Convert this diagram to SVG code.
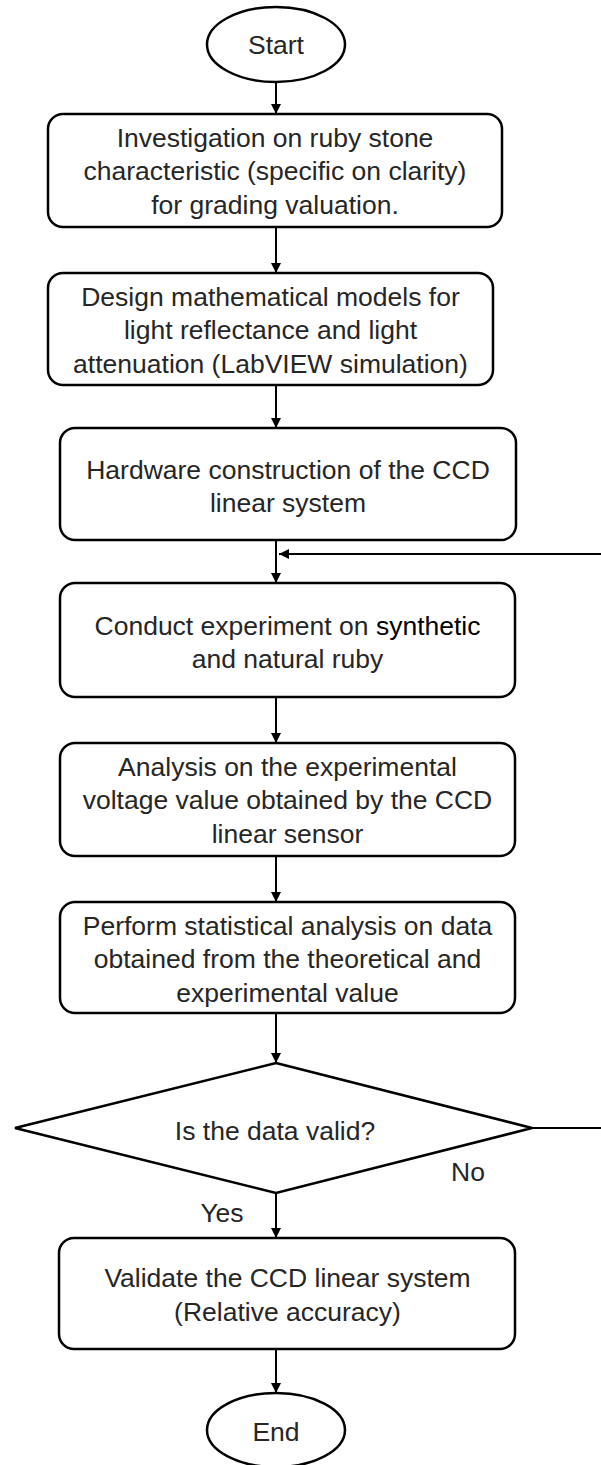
<svg xmlns="http://www.w3.org/2000/svg" width="601" height="1465" viewBox="0 0 601 1465">
<style>
.s{fill:#fff;stroke:#000;stroke-width:2.5}
.t{font-family:"Liberation Sans",Arial,sans-serif;font-size:26.5px;fill:#262626;text-anchor:middle}
.c{stroke:#000;stroke-width:2;fill:none}
</style>
<defs>
<marker id="ah" viewBox="0 0 10 10" refX="10" refY="5" markerWidth="10" markerHeight="10" markerUnits="userSpaceOnUse" orient="auto">
<path d="M0,0 L10,5 L0,10 Z" fill="#000"/>
</marker>
</defs>
<rect width="601" height="1465" fill="#fff"/>
<g id="connectors">
<line class="c" x1="276" y1="82" x2="276" y2="114" marker-end="url(#ah)"/>
<line class="c" x1="276" y1="227" x2="276" y2="273" marker-end="url(#ah)"/>
<line class="c" x1="276" y1="385" x2="276" y2="428" marker-end="url(#ah)"/>
<line class="c" x1="276" y1="540" x2="276" y2="583" marker-end="url(#ah)"/>
<line class="c" x1="276" y1="697" x2="276" y2="743" marker-end="url(#ah)"/>
<line class="c" x1="276" y1="856" x2="276" y2="902" marker-end="url(#ah)"/>
<line class="c" x1="276" y1="1013" x2="276" y2="1063" marker-end="url(#ah)"/>
<line class="c" x1="276" y1="1193" x2="276" y2="1238" marker-end="url(#ah)"/>
<line class="c" x1="276" y1="1349" x2="276" y2="1393" marker-end="url(#ah)"/>
<line class="c" x1="532" y1="1128" x2="603" y2="1128"/>
<line class="c" x1="603" y1="554" x2="279" y2="554" marker-end="url(#ah)"/>
<text class="t" x="468" y="1181">No</text>
<text class="t" x="222" y="1222">Yes</text>
</g>
<g id="start">
<ellipse class="s" cx="276" cy="44.5" rx="69" ry="37.5"/>
<text class="t" x="276" y="54">Start</text>
</g>
<g id="box1">
<rect class="s" x="48" y="114" width="454" height="113" rx="15"/>
<text class="t" x="275" y="146.5">Investigation on ruby stone</text>
<text class="t" x="275" y="180">characteristic (specific on clarity)</text>
<text class="t" x="275" y="213.5">for grading valuation.</text>
</g>
<g id="box2">
<rect class="s" x="48" y="273" width="445" height="112" rx="15"/>
<text class="t" x="270.5" y="305.5">Design mathematical models for</text>
<text class="t" x="270.5" y="339">light reflectance and light</text>
<text class="t" x="270.5" y="372.5">attenuation (LabVIEW simulation)</text>
</g>
<g id="box3">
<rect class="s" x="60" y="428" width="456" height="112" rx="15"/>
<text class="t" x="288" y="478.5">Hardware construction of the CCD</text>
<text class="t" x="288" y="512">linear system</text>
</g>
<g id="box4">
<rect class="s" x="60" y="583" width="455" height="114" rx="15"/>
<text class="t" x="287.5" y="634.5">Conduct experiment on <tspan fill="#000">synthetic</tspan></text>
<text class="t" x="287.5" y="668">and natural ruby</text>
</g>
<g id="box5">
<rect class="s" x="60" y="743" width="455" height="113" rx="15"/>
<text class="t" x="287.5" y="775.5">Analysis on the experimental</text>
<text class="t" x="287.5" y="809">voltage value obtained by the CCD</text>
<text class="t" x="287.5" y="842.5">linear sensor</text>
</g>
<g id="box6">
<rect class="s" x="60" y="902" width="455" height="111" rx="15"/>
<text class="t" x="287.5" y="934.5">Perform statistical analysis on data</text>
<text class="t" x="287.5" y="968">obtained from the theoretical and</text>
<text class="t" x="287.5" y="1001.5">experimental value</text>
</g>
<g id="decision">
<polygon class="s" points="276,1063 532,1128 276,1193 15,1128"/>
<text class="t" x="275" y="1139.5">Is the data valid?</text>
</g>
<g id="box7">
<rect class="s" x="59" y="1238" width="456" height="111" rx="15"/>
<text class="t" x="287.5" y="1286.5">Validate the CCD linear system</text>
<text class="t" x="287.5" y="1320.5">(Relative accuracy)</text>
</g>
<g id="end">
<ellipse class="s" cx="276" cy="1430" rx="69" ry="37"/>
<text class="t" x="276" y="1441">End</text>
</g>
</svg>
